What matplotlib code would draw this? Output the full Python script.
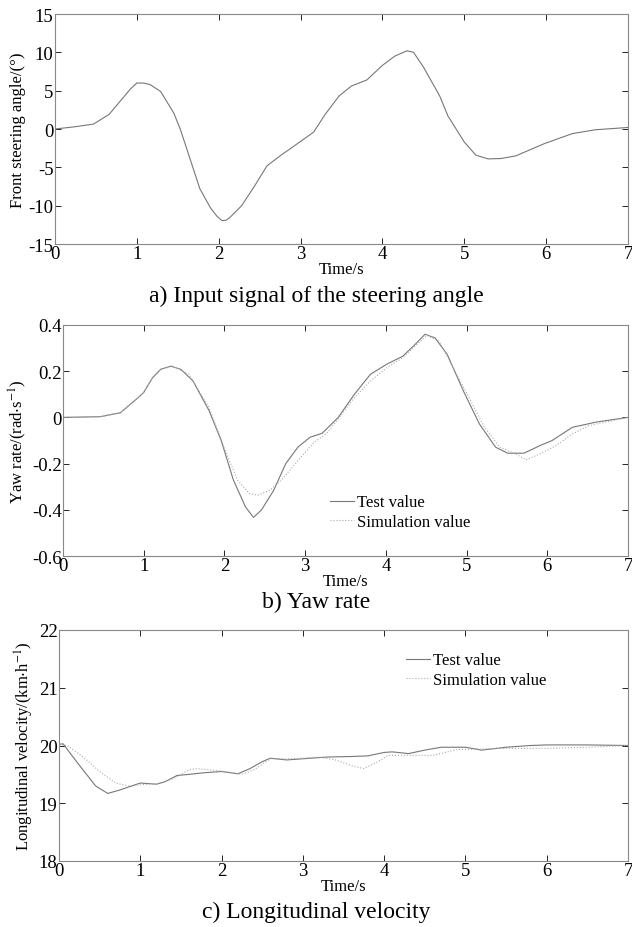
import matplotlib
matplotlib.use("Agg")
import matplotlib.pyplot as plt

plt.rcParams['font.family'] = ['Liberation Serif', 'DejaVu Serif']
plt.rcParams['mathtext.fontset'] = 'stix'
plt.rcParams['axes.unicode_minus'] = False

# Panel a: steering angle
t_a = [0, 0.25, 0.47, 0.66, 0.81, 0.92, 1.0, 1.08, 1.16, 1.29, 1.45, 1.53, 1.61, 1.77, 1.9,
       1.98, 2.04, 2.09, 2.14, 2.28, 2.44, 2.59, 2.75, 2.95, 3.16, 3.3, 3.47, 3.62, 3.81,
       4.0, 4.15, 4.3, 4.38, 4.5, 4.7, 4.8, 5.0, 5.14, 5.29, 5.45, 5.63, 5.98, 6.32, 6.6, 7.0]
steer = [0, 0.3, 0.64, 1.9, 3.8, 5.2, 6.0, 6.0, 5.8, 4.9, 2.1, 0.0, -2.6, -7.8, -10.3,
         -11.4, -11.95, -11.9, -11.5, -10.0, -7.4, -4.8, -3.5, -2.0, -0.4, 1.9, 4.3, 5.6,
         6.4, 8.3, 9.5, 10.2, 10.0, 8.1, 4.3, 1.7, -1.7, -3.4, -3.9, -3.85, -3.5, -1.9,
         -0.6, -0.1, 0.2]

# Panel b: yaw rate
t_b_test = [0, 0.46, 0.71, 0.91, 1.0, 1.11, 1.21, 1.335, 1.46, 1.61, 1.81, 1.96, 2.11, 2.26,
            2.36, 2.46, 2.61, 2.76, 2.91, 3.06, 3.21, 3.41, 3.61, 3.81, 4.01, 4.21, 4.36,
            4.485, 4.61, 4.76, 4.96, 5.16, 5.36, 5.51, 5.71, 5.91, 6.06, 6.31, 6.61, 7.0]
yaw_test = [0, 0.003, 0.02, 0.079, 0.108, 0.172, 0.208, 0.222, 0.208, 0.158, 0.029, -0.1,
            -0.27, -0.387, -0.433, -0.4, -0.316, -0.2, -0.129, -0.086, -0.069, 0.0, 0.1,
            0.187, 0.23, 0.265, 0.315, 0.36, 0.344, 0.273, 0.115, -0.029, -0.129, -0.155,
            -0.155, -0.122, -0.1, -0.043, -0.02, 0.0]
t_b_sim = [0, 0.46, 0.71, 0.91, 1.0, 1.11, 1.21, 1.36, 1.56, 1.81, 2.01, 2.16, 2.31, 2.41,
           2.56, 2.71, 2.91, 3.11, 3.26, 3.41, 3.61, 3.81, 4.01, 4.21, 4.36, 4.51, 4.66,
           4.81, 5.01, 5.21, 5.41, 5.61, 5.735, 5.91, 6.11, 6.31, 6.51, 6.81, 7.0]
yaw_sim = [0, 0.003, 0.02, 0.079, 0.108, 0.172, 0.208, 0.222, 0.187, 0.043, -0.143, -0.27,
           -0.33, -0.337, -0.316, -0.27, -0.187, -0.108, -0.072, -0.007, 0.086, 0.158,
           0.215, 0.258, 0.308, 0.355, 0.33, 0.23, 0.1, -0.036, -0.129, -0.158, -0.184,
           -0.158, -0.122, -0.072, -0.036, -0.014, 0.0]

# Panel c: longitudinal velocity
t_c_test = [0, 0.05, 0.2, 0.45, 0.6, 0.75, 1.0, 1.2, 1.3, 1.45, 1.6, 1.8, 2.0, 2.2, 2.35, 2.5,
            2.6, 2.8, 3.0, 3.3, 3.6, 3.8, 4.0, 4.1, 4.3, 4.5, 4.7, 4.9, 5.0, 5.2, 5.5, 5.8,
            6.0, 6.5, 7.0]
vel_test = [20.02, 20.03, 19.75, 19.3, 19.17, 19.23, 19.35, 19.33, 19.37, 19.48, 19.5, 19.53,
            19.55, 19.51, 19.6, 19.72, 19.78, 19.75, 19.77, 19.8, 19.81, 19.82, 19.88, 19.89,
            19.86, 19.92, 19.97, 19.97, 19.97, 19.92, 19.97, 20.0, 20.01, 20.01, 20.0]
t_c_sim = [0, 0.1, 0.3, 0.5, 0.7, 0.85, 1.0, 1.2, 1.4, 1.6, 1.7, 1.9, 2.1, 2.25, 2.4, 2.6, 2.8,
           3.0, 3.2, 3.4, 3.6, 3.75, 3.9, 4.05, 4.3, 4.6, 4.9, 5.2, 5.5, 6.0, 6.5, 7.0]
vel_sim = [20.02, 20.0, 19.8, 19.55, 19.35, 19.3, 19.32, 19.34, 19.42, 19.58, 19.6, 19.57,
           19.54, 19.5, 19.58, 19.77, 19.77, 19.78, 19.8, 19.75, 19.65, 19.6, 19.7, 19.83,
           19.83, 19.83, 19.93, 19.94, 19.95, 19.95, 19.97, 20.0]

W, H = 632, 928
fig = plt.figure(figsize=(W / 100, H / 100), dpi=100)

def box(l, r, t, b):
    return [l / W, 1 - b / H, (r - l) / W, (b - t) / H]

def style(ax, xlim, ylim, yticks, ylabel):
    ax.set_xlim(*xlim)
    ax.set_ylim(*ylim)
    ax.set_xticks(range(0, 8))
    ax.set_yticks(yticks)
    ax.tick_params(direction='in', top=True, right=True, length=4, width=0.6,
                   labelsize=13.5, pad=1)
    for s in ax.spines.values():
        s.set_color('#888888')
        s.set_linewidth(0.8)
    ax.set_xlabel('Time/s', fontsize=12, labelpad=-1)
    ax.set_ylabel(ylabel, fontsize=12, labelpad=2)

line_c = '#777777'
sim_c = '#aaaaaa'

ax1 = fig.add_axes(box(55, 628, 15, 245))
ax1.plot(t_a, steer, color=line_c, lw=0.8)
style(ax1, (0, 7), (-15, 15), [-15, -10, -5, 0, 5, 10, 15], 'Front steering angle/(°)')
fig.text(0.5, 1 - 296 / H, 'a) Input signal of the steering angle', ha='center', va='center',
         fontsize=17)

ax2 = fig.add_axes(box(63, 628, 326, 557))
ax2.plot(t_b_test, yaw_test, color=line_c, lw=0.8, label='Test value')
ax2.plot(t_b_sim, yaw_sim, color=sim_c, lw=0.8, ls=':', label='Simulation value')
style(ax2, (0, 7), (-0.6, 0.4), [-0.6, -0.4, -0.2, 0, 0.2, 0.4],
      r'Yaw rate/(rad$\cdot$s$^{-1}$)')
ax2.set_yticklabels(['-0.6', '-0.4', '-0.2', '0', '0.2', '0.4'])
ax2.legend(loc='upper left', bbox_to_anchor=((322 - 63) / (628 - 63), 1 - (487 - 326) / (557 - 326)),
           frameon=False, fontsize=12, handlelength=1.4, handletextpad=0.2,
           borderpad=0, labelspacing=0.2)
fig.text(0.5, 1 - 602 / H, 'b) Yaw rate', ha='center', va='center', fontsize=17)

ax3 = fig.add_axes(box(59, 628, 631, 862))
ax3.plot(t_c_test, vel_test, color=line_c, lw=0.8, label='Test value')
ax3.plot(t_c_sim, vel_sim, color=sim_c, lw=0.8, ls=':', label='Simulation value')
style(ax3, (0, 7), (18, 22), [18, 19, 20, 21, 22],
      r'Longitudinal velocity/(km$\cdot$h$^{-1}$)')
ax3.legend(loc='upper left', bbox_to_anchor=((398 - 59) / (628 - 59), 1 - (645 - 631) / (862 - 631)),
           frameon=False, fontsize=12, handlelength=1.4, handletextpad=0.2,
           borderpad=0, labelspacing=0.2)
fig.text(0.5, 1 - 912 / H, 'c) Longitudinal velocity', ha='center', va='center', fontsize=17)

fig.savefig('out.png', dpi=100)
